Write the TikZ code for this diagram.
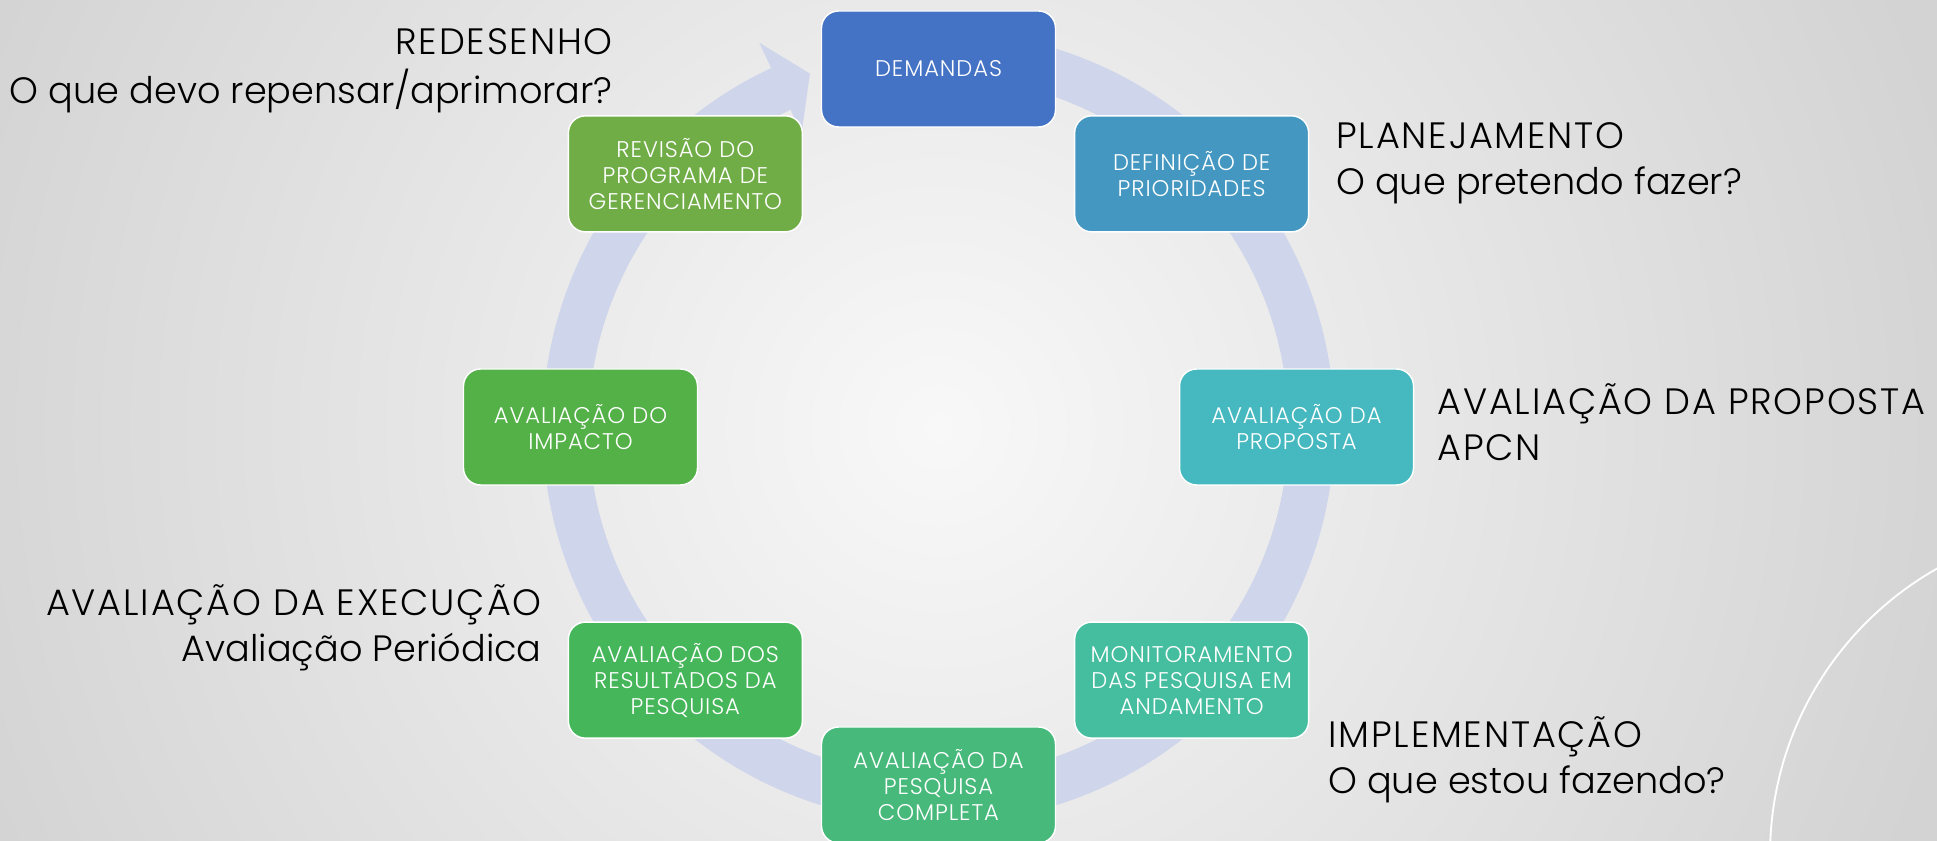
\documentclass[tikz,border=0pt]{standalone}
\usepackage{fontspec}
\setmainfont{Poppins Light}
\usetikzlibrary{calc}
\definecolor{bgin}{HTML}{F8F8F8}
\definecolor{bgout}{HTML}{D3D3D3}
\definecolor{ringc}{HTML}{CFD5EA}
\definecolor{cA}{HTML}{4472C4}
\definecolor{cB}{HTML}{4397C1}
\definecolor{cC}{HTML}{45B8C0}
\definecolor{cD}{HTML}{45BD9F}
\definecolor{cE}{HTML}{47B97B}
\definecolor{cF}{HTML}{46B65A}
\definecolor{cG}{HTML}{54B148}
\definecolor{cH}{HTML}{70AD47}
\newcommand{\capsp}{\addfontfeatures{LetterSpace=5}}
\newcommand{\boxsp}{\addfontfeatures{LetterSpace=4}}
\pgfdeclareradialshading{bgrad}{\pgfpoint{0bp}{0bp}}{color(0bp)=(bgin); color(25bp)=(bgout); color(50bp)=(bgout)}
\tikzset{
  cyclebox/.style={draw=white, line width=1.1pt, rounded corners=12.75pt,
    minimum width=175.5pt, minimum height=87pt, inner sep=0pt, text=white,
    align=center, font=\fontsize{17}{19.5}\selectfont\boxsp},
  sidetext/.style={inner sep=0pt, text=black, font=\fontsize{27.5}{34}\selectfont},
  ringline/.style={draw=ringc, line width=34.5pt},
}
\begin{document}
\begin{tikzpicture}[x=0.75pt,y=0.75pt]
\useasboundingbox (0,0) rectangle (1937,841);
\begin{scope}
  \clip (0,0) rectangle (1937,841);
  \fill[bgout] (0,0) rectangle (1937,841);
  \shade[shading=bgrad] (938.5,414) circle[radius=1050];
  \draw[white, line width=1.4pt] (2099,-14) circle[radius=329];
\end{scope}
\coordinate (C) at (938.5,414);
\coordinate (ringstart) at ($(C)+(100:373)$);
\draw[ringline] (ringstart) arc[start angle=100, end angle=-245, radius=373];
\fill[ringc] ($(C)+(115:424)$) -- ($(C)+(110:376)$) -- ($(C)+(115:324)$) -- cycle;

\node[cyclebox, fill=cA] (dem)  at ($(C)+(90:358)$)   {DEMANDAS};
\node[cyclebox, fill=cB] (def)  at ($(C)+(45:358)$)   {DEFINIÇÃO DE\\PRIORIDADES};
\node[cyclebox, fill=cC] (prop) at ($(C)+(0:358)$)    {AVALIAÇÃO DA\\PROPOSTA};
\node[cyclebox, fill=cD] (mon)  at ($(C)+(-45:358)$)  {MONITORAMENTO\\DAS PESQUISA EM\\ANDAMENTO};
\node[cyclebox, fill=cE] (comp) at ($(C)+(-90:358)$)  {AVALIAÇÃO DA\\PESQUISA\\COMPLETA};
\node[cyclebox, fill=cF] (res)  at ($(C)+(-135:358)$) {AVALIAÇÃO DOS\\RESULTADOS DA\\PESQUISA};
\node[cyclebox, fill=cG] (imp)  at ($(C)+(180:358)$)  {AVALIAÇÃO DO\\IMPACTO};
\node[cyclebox, fill=cH] (rev)  at ($(C)+(135:358)$)  {REVISÃO DO\\PROGRAMA DE\\GERENCIAMENTO};

\node[sidetext, anchor=base east] (lredes) at (613,786)
  {\begin{tabular}[t]{@{}r@{}}{\capsp REDESENHO}\\O que devo repensar/aprimorar?\end{tabular}};
\node[sidetext, anchor=base west] (lplan) at (1336,692)
  {\begin{tabular}[t]{@{}l@{}}{\capsp PLANEJAMENTO}\\O que pretendo fazer?\end{tabular}};
\node[sidetext, anchor=base west] (lprop) at (1437,426)
  {\begin{tabular}[t]{@{}l@{}}{\capsp AVALIAÇÃO DA PROPOSTA}\\{\capsp APCN}\end{tabular}};
\node[sidetext, anchor=base east] (lexec) at (542,225)
  {\begin{tabular}[t]{@{}r@{}}{\capsp AVALIAÇÃO DA EXECUÇÃO}\\Avaliação Periódica\end{tabular}};
\node[sidetext, anchor=base west] (limpl) at (1328,93)
  {\begin{tabular}[t]{@{}l@{}}{\capsp IMPLEMENTAÇÃO}\\O que estou fazendo?\end{tabular}};
\end{tikzpicture}
\end{document}
